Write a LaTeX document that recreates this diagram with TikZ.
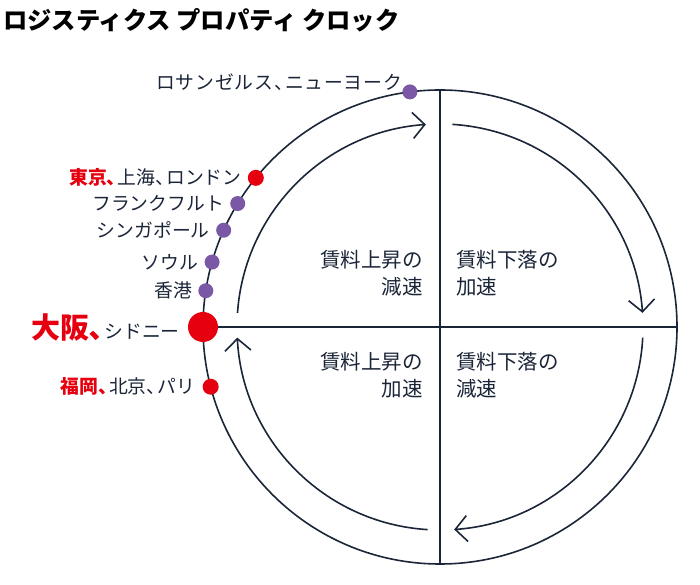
\documentclass[tikz,border=0pt]{standalone}
\usepackage{fontspec}
\setmainfont{Noto Sans CJK JP}
\usetikzlibrary{arrows.meta,positioning,calc}
\definecolor{inknavy}{HTML}{1B2538}
\definecolor{clockred}{HTML}{E6000F}
\definecolor{clockpurple}{HTML}{7A58A6}
\tikzset{
  ring/.style={draw=inknavy, line width=1.6pt},
  axisline/.style={draw=inknavy, line width=1.6pt},
  cyclearrow/.style={-{Straight Barb[length=12pt,width=26pt,line width=1.6pt]}, draw=inknavy, line width=1.6pt},
  purpledot/.style={circle, fill=clockpurple, minimum size=15pt, inner sep=0pt},
  reddot/.style={circle, fill=clockred, minimum size=16pt, inner sep=0pt},
  bigreddot/.style={circle, fill=clockred, minimum size=30pt, inner sep=0pt},
  citylabel/.style={text=inknavy, font=\fontsize{18.8}{22}\selectfont, inner sep=0pt},
  phaselabel/.style={text=inknavy, font=\fontsize{20.5}{27}\selectfont, inner sep=0pt}
}
\newcommand{\tcomma}{、\kern-0.42em}
\newcommand{\redname}[1]{\textcolor{clockred}{\bfseries #1}}

\begin{document}
\begin{tikzpicture}[x=1pt, y=1pt]
\useasboundingbox (0,0) rectangle (700,585);
\node[anchor=west, text=black, font=\fontsize{24.3}{28}\selectfont\bfseries, inner sep=0pt] (title) at (3,565) {ロジスティクス プロパティ クロック};

\coordinate (c) at (440,258);
\coordinate (top) at ($(c)+(90:237pt)$);
\coordinate (bottom) at ($(c)+(-90:237pt)$);
\coordinate (left) at ($(c)+(180:237pt)$);
\coordinate (right) at ($(c)+(0:237pt)$);

% outer clock and quadrants
\draw[ring] (c) circle[radius=237pt];
\draw[axisline] (top) -- (bottom);
\draw[axisline] (left) -- (right);

% inner cycle arrows
\draw[cyclearrow] ($(c)+(176:203pt)$) arc[start angle=176, end angle=94, radius=203pt];
\draw[cyclearrow] ($(c)+(86.5:203pt)$) arc[start angle=86.5, end angle=4, radius=203pt];
\draw[cyclearrow] ($(c)+(-3:203pt)$) arc[start angle=-3, end angle=-86, radius=203pt];
\draw[cyclearrow] ($(c)+(-93.5:203pt)$) arc[start angle=-93.5, end angle=-177, radius=203pt];

% phase labels
\node[phaselabel, align=right, anchor=east] (riseslow) at (423,312) {賃料上昇の\\減速};
\node[phaselabel, align=left, anchor=west] (fallfast) at (456,312) {賃料下落の\\加速};
\node[phaselabel, align=right, anchor=east] (risefast) at (423,210) {賃料上昇の\\加速};
\node[phaselabel, align=left, anchor=west] (fallslow) at (456,210) {賃料下落の\\減速};

% cities on the clock
\node[purpledot] (la) at ($(c)+(97.3:237pt)$) {};
\node[reddot] (tokyo) at ($(c)+(141:237pt)$) {};
\node[purpledot] (frankfurt) at ($(c)+(148.6:237pt)$) {};
\node[purpledot] (singapore) at ($(c)+(155.9:237pt)$) {};
\node[purpledot] (seoul) at ($(c)+(164.1:237pt)$) {};
\node[purpledot] (hongkong) at ($(c)+(171.2:237pt)$) {};
\node[bigreddot] (osaka) at ($(c)+(180:237pt)$) {};
\node[reddot] (fukuoka) at ($(c)+(194.6:237pt)$) {};

\node[citylabel, anchor=east] (la label) at ([yshift=10pt]la.west) {\addfontfeature{LetterSpace=4.4}ロサンゼルス\tcomma ニューヨーク};
\node[citylabel, left=6pt of tokyo] (tokyo label) {\redname{東京\tcomma}上海\tcomma ロンドン};
\node[citylabel, left=6pt of frankfurt] (frankfurt label) {フランクフルト};
\node[citylabel, left=6pt of singapore] (singapore label) {シンガポール};
\node[citylabel, left=6pt of seoul] (seoul label) {ソウル};
\node[citylabel, left=6pt of hongkong] (hongkong label) {香港};
\node[citylabel, left=8pt of osaka] (osaka label) {\textcolor{clockred}{\fontsize{29}{32}\selectfont\bfseries 大阪､}シドニー};
\node[citylabel, left=7pt of fukuoka] (fukuoka label) {\redname{福岡\tcomma}北京\tcomma パリ};
\end{tikzpicture}
\end{document}
